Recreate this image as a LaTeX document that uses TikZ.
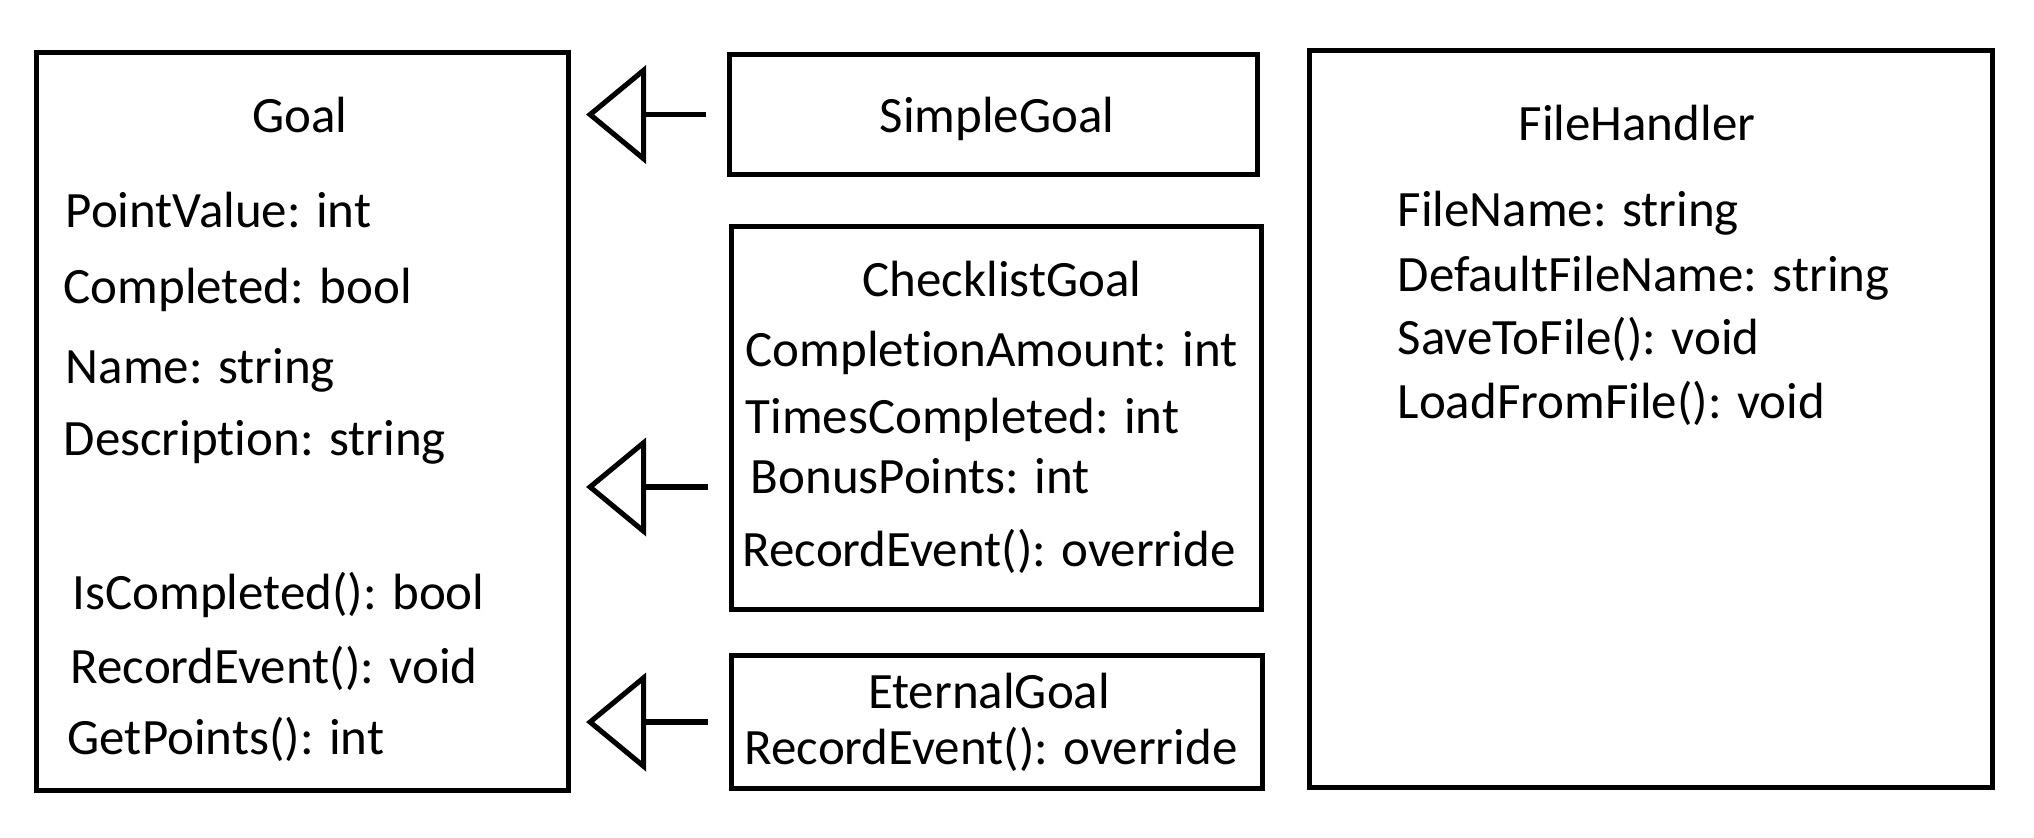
\documentclass[tikz,border=0pt]{standalone}
\usepackage{fontspec}
\setmainfont{Carlito}[Ligatures=NoCommon]
\usetikzlibrary{arrows.meta}
\tikzstyle{classbox} = [rectangle, 
draw=black, 
line width=1.45pt,
inner sep=0pt,
anchor=north west]
\tikzstyle{member} = [anchor=base west, inner sep=0pt, font=\fontsize{14.5}{17}\selectfont]
\tikzstyle{title} = [anchor=base, inner sep=0pt, font=\fontsize{14.5}{17}\selectfont]
\tikzstyle{inherit} = [line width=1.45pt, -{Triangle[open, length=0.6cm, width=0.98cm, line width=1.45pt]}, shorten >=0.15cm, shorten <=0.21cm]

\begin{document}
\begin{tikzpicture}[x=1cm, y=-1cm]
	\useasboundingbox (0,0) rectangle (20.34,8.38);
	
	\node (goal) [classbox, minimum width=5.32cm, minimum height=7.38cm] at (0.34,0.50) {};
	\node (simple) [classbox, minimum width=5.28cm, minimum height=1.20cm] at (7.27,0.52) {};
	\node (checklist) [classbox, minimum width=5.30cm, minimum height=3.83cm] at (7.29,2.24) {};
	\node (eternal) [classbox, minimum width=5.31cm, minimum height=1.33cm] at (7.29,6.53) {};
	\node (filehandler) [classbox, minimum width=6.83cm, minimum height=7.37cm] at (13.07,0.48) {};
	
	% Goal
	\node (goalT) [title] at (3.00,1.33) {Goal};
	\node (g1) [member] at (0.65,2.28) {PointValue: int};
	\node (g2) [member] at (0.63,3.04) {Completed: bool};
	\node (g3) [member] at (0.65,3.84) {Name: string};
	\node (g4) [member] at (0.63,4.56) {Description: string};
	\node (g5) [member] at (0.72,6.10) {IsCompleted(): bool};
	\node (g6) [member] at (0.70,6.84) {RecordEvent(): void};
	\node (g7) [member] at (0.67,7.55) {GetPoints(): int};
	
	% SimpleGoal
	\node (simpleT) [title] at (9.97,1.33) {SimpleGoal};
	
	% ChecklistGoal
	\node (checklistT) [title] at (10.02,2.97) {ChecklistGoal};
	\node (c1) [member] at (7.45,3.67) {CompletionAmount: int};
	\node (c2) [member] at (7.45,4.34) {TimesCompleted: int};
	\node (c3) [member] at (7.50,4.94) {BonusPoints: int};
	\node (c4) [member] at (7.42,5.67) {RecordEvent(): override};
	
	% EternalGoal
	\node (eternalT) [title] at (9.89,7.09) {EternalGoal};
	\node (e1) [member] at (7.44,7.65) {RecordEvent(): override};
	
	% FileHandler
	\node (fileT) [title] at (16.37,1.41) {FileHandler};
	\node (f1) [member] at (13.97,2.27) {FileName: string};
	\node (f2) [member] at (13.97,2.92) {DefaultFileName: string};
	\node (f3) [member] at (13.97,3.55) {SaveToFile(): void};
	\node (f4) [member] at (13.97,4.19) {LoadFromFile(): void};
	
	\coordinate (cA) at (7.29,4.87);
	\draw [inherit] (simple.west) -- (goal.east |- simple.west);
	\draw [inherit] (cA) -- (goal.east |- cA);
	\draw [inherit] (eternal.west) -- (goal.east |- eternal.west);
	
\end{tikzpicture}
\end{document}
